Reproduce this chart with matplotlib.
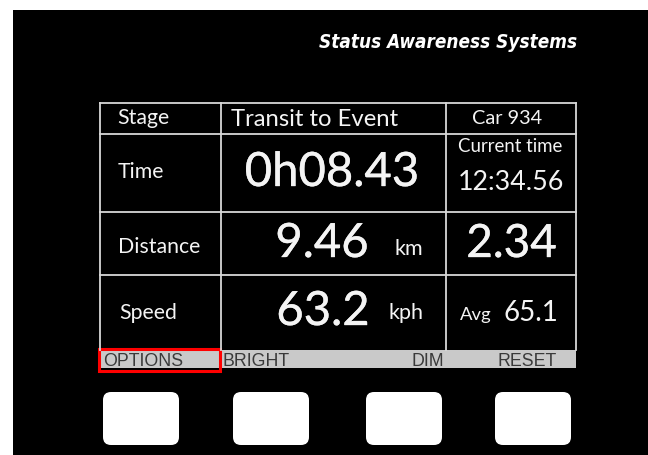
import matplotlib
matplotlib.use("Agg")
import matplotlib.pyplot as plt
from matplotlib.patches import Rectangle, FancyBboxPatch
from matplotlib import font_manager as fm
import matplotlib.patheffects as pe

# ---- content ----
title = "Status Awareness Systems"
row_labels = ["Stage", "Time", "Distance", "Speed"]
stage_value = "Transit to Event"
car_label = "Car 934"
time_value = "0h08.43"
current_time_label = "Current time"
current_time_value = "12:34.56"
distance_value = "9.46"
distance_unit = "km"
distance_right = "2.34"
speed_value = "63.2"
speed_unit = "kph"
avg_label = "Avg"
avg_value = "65.1"
button_labels = ["OPTIONS", "BRIGHT", "DIM", "RESET"]

names = {f.name for f in fm.fontManager.ttflist}
def pick(*cands):
    for c in cands:
        if c in names:
            return c
    return "DejaVu Sans"

F_MAIN = pick("Lato", "Open Sans", "DejaVu Sans")
F_TITLE = pick("Liberation Sans Narrow", "DejaVu Sans")
F_BAR = pick("Liberation Sans", "DejaVu Sans")

W, H = 648, 455
fig = plt.figure(figsize=(W / 100, H / 100), dpi=100)
ax = fig.add_axes([0, 0, 1, 1])
ax.set_xlim(0, W)
ax.set_ylim(H, 0)
ax.axis("off")
fig.patch.set_facecolor("white")

# black panel
ax.add_patch(Rectangle((12.5, 10), W - 12.5, H - 10, facecolor="black", edgecolor="none"))

# title
ax.text(577, 43, title, color="white", fontsize=13.6, fontweight="bold", fontstyle="italic",
        fontstretch="condensed", family=F_TITLE, ha="right", va="center")

# table grid
lc = "#d8d8d8"
lw = 1.3
x0, x1, x2, x3 = 100, 221, 446, 575.5
ys = [102.5, 134, 212, 275, 350]
for y in ys[:-1]:
    ax.plot([x0, x3], [y, y], color=lc, lw=lw)
for x in [x0, x1, x2, x3]:
    ax.plot([x, x], [ys[0], ys[-1]], color=lc, lw=lw)

col = "#f4f4f4"
txt = dict(color=col, family=F_MAIN)
big = dict(color=col, family=F_MAIN,
           path_effects=[pe.withStroke(linewidth=0.25, foreground=col)])
LBL = 15.3
BIG = 34

# left labels
ax.text(117, 118, row_labels[0], fontsize=LBL, ha="left", va="center", **txt)
ax.text(118, 172, row_labels[1], fontsize=LBL, ha="left", va="center", **txt)
ax.text(118, 247, row_labels[2], fontsize=LBL, ha="left", va="center", **txt)
ax.text(119, 313, row_labels[3], fontsize=LBL, ha="left", va="center", **txt)

# middle
ax.text(231, 120, stage_value, fontsize=17.2, ha="left", va="center", **txt)
ax.text(332, 173, time_value, fontsize=BIG, ha="center", va="center", **big)
ax.text(322, 244, distance_value, fontsize=BIG, ha="center", va="center", **big)
ax.text(409, 249, distance_unit, fontsize=15.5, ha="center", va="center", **txt)
ax.text(323, 312, speed_value, fontsize=BIG, ha="center", va="center", **big)
ax.text(405.5, 313, speed_unit, fontsize=15.5, ha="center", va="center", **txt)

# right
ax.text(507.5, 118, car_label, fontsize=14.3, ha="center", va="center", **txt)
ax.text(510.5, 147, current_time_label, fontsize=13.4, ha="center", va="center", **txt)
ax.text(510.5, 182, current_time_value, fontsize=19.3, ha="center", va="center", **txt)
ax.text(511.5, 244, distance_right, fontsize=33, ha="center", va="center", **big)
ax.text(476, 315, avg_label, fontsize=13.3, ha="center", va="center", **txt)
ax.text(531, 313, avg_value, fontsize=20, ha="center", va="center", **txt)

# gray button bar
ax.add_patch(Rectangle((x0, 350), x3 - x0, 18, facecolor="#c9c9c9", edgecolor="none"))
bar = dict(color="#3a3a3a", family=F_BAR, fontsize=12.8, va="center")
ax.text(103, 361.5, button_labels[0], ha="left", **bar)
ax.text(222, 361.5, button_labels[1], ha="left", **bar)
ax.text(444.5, 361.5, button_labels[2], ha="right", **bar)
ax.text(556.5, 361.5, button_labels[3], ha="right", **bar)

# red highlight
ax.add_patch(Rectangle((98.5, 348.5), 121, 22.5, facecolor="none", edgecolor="#ff0000", lw=2.2))

# physical buttons
bx = [103, 233, 366, 495]
for b in bx:
    ax.add_patch(FancyBboxPatch((b + 8, 392 + 8), 76 - 16, 53 - 16,
                                boxstyle="round,pad=8", facecolor="white", edgecolor="none"))

fig.savefig("out.png", dpi=100, facecolor=fig.get_facecolor())
